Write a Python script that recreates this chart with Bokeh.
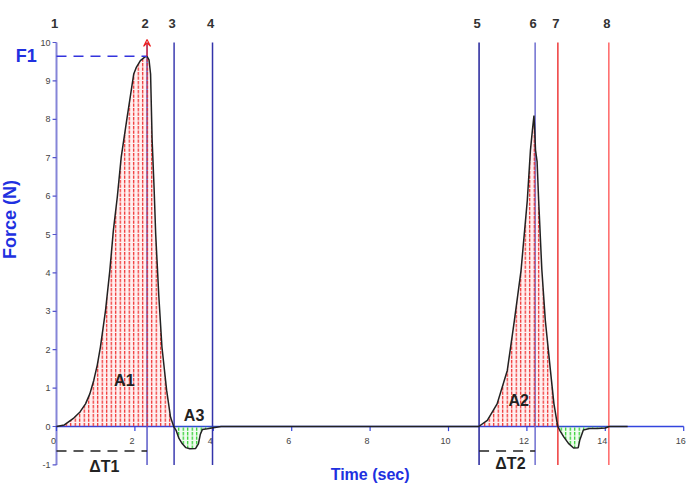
import math
from bokeh.plotting import figure
from bokeh.models import Range1d, Arrow, VeeHead
from bokeh.core.properties import value
from bokeh.embed import file_html
from bokeh.resources import INLINE

# ---- data ----
time_s = [0.0, 0.2, 0.44, 0.6, 0.74, 0.85, 0.95, 1.04, 1.12, 1.25, 1.36, 1.45, 1.55, 1.65, 1.79,
          1.97, 2.04, 2.14, 2.25, 2.31, 2.36, 2.40, 2.44, 2.49, 2.53, 2.61, 2.69, 2.81, 2.91, 2.99,
          3.05, 3.12, 3.21, 3.30, 3.40, 3.55, 3.62, 3.67, 3.72, 3.85, 4.0, 4.2,
          10.77, 10.99, 11.24, 11.50, 11.68, 11.85, 12.01, 12.09, 12.14, 12.18, 12.20, 12.22, 12.26,
          12.30, 12.38, 12.47, 12.60, 12.69, 12.76, 12.79,
          12.85, 12.94, 13.06, 13.19, 13.31, 13.35, 13.44, 13.6, 13.8, 14.0, 14.1, 14.57]
force_n = [0.0, 0.04, 0.22, 0.38, 0.59, 0.85, 1.2, 1.6, 2.07, 3.02, 4.06, 5.1, 5.97, 7.01, 7.97,
           9.18, 9.36, 9.53, 9.62, 9.64, 9.55, 9.18, 7.45, 6.2, 5.02, 3.4, 2.07, 0.94, 0.24, 0.0,
           -0.1, -0.3, -0.45, -0.55, -0.58, -0.57, -0.45, -0.2, -0.08, -0.06, -0.03, 0.0,
           0.0, 0.16, 0.59, 1.46, 2.76, 4.06, 5.89, 7.19, 7.71, 8.10, 7.7, 7.2, 6.9,
           5.89, 4.1, 2.76, 1.46, 0.59, 0.16, 0.0,
           -0.12, -0.27, -0.44, -0.56, -0.55, -0.35, -0.09, -0.05, -0.05, -0.04, 0.0, 0.0]

marker_x = [0.0, 2.31, 3.0, 3.98, 10.78, 12.21, 12.79, 14.09]
marker_labels = ["1", "2", "3", "4", "5", "6", "7", "8"]
marker_colors = ["#8585d8", "#5a5ac8", "#3b3bb0", "#3333aa", "#22229a", "#6f6fd0", "#ee3a3a", "#ff6666"]

x_ticks = [0, 2, 4, 6, 8, 10, 12, 14, 16]
y_ticks = list(range(-1, 11))

peak_f1 = 9.64
peak_t1 = 2.31
dt_level = -0.64

pos_regions = [(0.0, 2.99), (10.77, 12.79)]
neg_regions = [(2.99, 4.2), (12.79, 14.1)]

FONT = value("Liberation Sans")

# ---- figure: the frame fills the whole canvas, axes drawn along x=0 and y=0 ----
p = figure(width=699, height=483, x_range=Range1d(-1.4286, 16.403), y_range=Range1d(-1.484, 11.094),
           output_backend="svg", toolbar_location=None, x_axis_location=None, y_axis_location=None,
           min_border_left=0, min_border_right=0, min_border_top=0, min_border_bottom=0)
p.outline_line_color = None
p.grid.grid_line_color = None
p.background_fill_color = "white"

# y axis (at x = 0)
p.segment(x0=[0], y0=[y_ticks[0]], x1=[0], y1=[y_ticks[-1]], line_color="#8585d8", line_width=2)
p.segment(x0=[0] * len(y_ticks), y0=y_ticks, x1=[-0.1] * len(y_ticks), y1=y_ticks,
          line_color="#5555cc", line_width=1.2)
p.text(x=[-0.15] * len(y_ticks), y=y_ticks, text=[str(t) for t in y_ticks],
       text_align="right", text_baseline="middle", text_font=FONT,
       text_font_size="9px", text_color="#444444")

# x axis (at y = 0)
p.segment(x0=[x_ticks[0]], y0=[0], x1=[x_ticks[-1]], y1=[0], line_color="#3344dd", line_width=1.5)
p.segment(x0=x_ticks, y0=[0] * len(x_ticks), x1=x_ticks, y1=[-0.12] * len(x_ticks),
          line_color="#3344dd", line_width=1.2)
p.text(x=x_ticks, y=[-0.37] * len(x_ticks), text=[str(t) for t in x_ticks], x_offset=-3,
       text_align="center", text_baseline="middle", text_font=FONT,
       text_font_size="9px", text_color="#444444")

# marker vertical lines
p.segment(x0=marker_x[1:], y0=[-1] * 7, x1=marker_x[1:], y1=[10] * 7,
          line_color=marker_colors[1:], line_width=1.5)
p.text(x=marker_x, y=[10.49] * 8, text=marker_labels, x_offset=-2, text_align="center",
       text_baseline="middle", text_font=FONT, text_font_style="bold",
       text_font_size="13px", text_color="#333333")

# filled areas
def subset(lo, hi):
    xs, ys = [], []
    for t, f in zip(time_s, force_n):
        if lo <= t <= hi:
            xs.append(t)
            ys.append(f)
    return xs, ys

for lo, hi in pos_regions:
    xs, ys = subset(lo, hi)
    p.varea(x=xs, y1=[0] * len(xs), y2=ys, fill_color="#ff0000", fill_alpha=0.06,
            hatch_pattern="vertical_dash", hatch_color="#ee2222", hatch_scale=4.5, hatch_weight=1.2)
for lo, hi in neg_regions:
    xs, ys = subset(lo, hi)
    p.varea(x=xs, y1=[0] * len(xs), y2=ys, fill_color="#00cc00", fill_alpha=0.06,
            hatch_pattern="vertical_dash", hatch_color="#22cc22", hatch_scale=4.5, hatch_weight=1.2)

# trace
p.line(time_s, force_n, line_color="#222222", line_width=1.5)

# F1 dashed line and peak arrow
p.segment(x0=[0], y0=[peak_f1], x1=[peak_t1], y1=[peak_f1], line_color="#3333dd",
          line_width=1.5, line_dash="10 7")
p.add_layout(Arrow(end=VeeHead(size=7, line_color="#ee2222", line_width=1.2, fill_color=None),
                   x_start=peak_t1, y_start=peak_f1, x_end=peak_t1, y_end=10.08,
                   line_color="#ee2222", line_width=1.2))

# delta T lines
p.segment(x0=[0, marker_x[4]], y0=[dt_level] * 2, x1=[marker_x[1], marker_x[5]], y1=[dt_level] * 2,
          line_color="#222222", line_width=1.5, line_dash="10 7")

# area labels
p.text(x=[1.73, 11.79, 3.51], y=[1.2, 0.68, 0.29], text=["A1", "A2", "A3"],
       text_align="center", text_baseline="middle", text_font=FONT,
       text_font_style="bold", text_font_size="16px", text_color="#222222")
p.text(x=[1.22, 11.58], y=[-1.04, -0.97], text=["\u0394T1", "\u0394T2"],
       text_align="center", text_baseline="middle", text_font=FONT,
       text_font_style="bold", text_font_size="16px", text_color="#222222")

# titles
p.text(x=[8.0], y=[-1.25], text=["Time (sec)"], text_align="center", text_baseline="middle",
       text_font=FONT, text_font_style="bold", text_font_size="16px", text_color="#2030e0")
p.text(x=[-1.19], y=[5.39], text=["Force (N)"], angle=math.pi / 2, text_align="center",
       text_baseline="middle", text_font=FONT, text_font_style="bold",
       text_font_size="18px", text_color="#2030e0")
p.text(x=[-0.77], y=[peak_f1], text=["F1"], text_align="center", text_baseline="middle",
       text_font=FONT, text_font_style="bold", text_font_size="18px", text_color="#2030e0")

open("out.html", "w").write(file_html(p, INLINE))
